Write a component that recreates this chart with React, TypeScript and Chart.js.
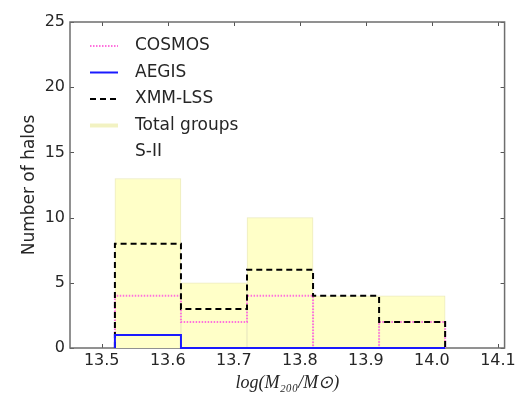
import React, { useEffect, useRef } from "react";
import { Chart, registerables } from "chart.js";

Chart.register(...registerables);

// Histogram bin edges in log(M200/Msun)
const binEdges = [13.52, 13.62, 13.72, 13.82, 13.92, 14.02];
// Halo counts per bin
const totalGroups = [13, 5, 10, 4, 4];
const xmmLss = [8, 3, 6, 4, 2];
const cosmos = [4, 2, 4, 0, 2];
const aegis = [1, 0, 0, 0, 0];

const xTicks = [13.5, 13.6, 13.7, 13.8, 13.9, 14.0, 14.1];
const yTicks = [0, 5, 10, 15, 20, 25];

const FONT = "'DejaVu Sans', sans-serif";
const TEXT = "#262626";

const COSMOS_STYLE = { color: "#ff70dd", dash: [1.5, 1.5], width: 2 };
const AEGIS_STYLE = { color: "#1a1aff", dash: [] as number[], width: 2 };
const XMM_STYLE = { color: "#000000", dash: [6, 4], width: 2 };

// Outline of a step histogram: rise at first edge, steps, drop at last edge
function stepPoints(counts: number[]) {
  const pts = [{ x: binEdges[0], y: 0 }];
  counts.forEach((c, i) => pts.push({ x: binEdges[i], y: c }));
  pts.push({ x: binEdges[binEdges.length - 1], y: 0 });
  return pts;
}

function barPoints(counts: number[]) {
  return counts.map((c, i) => ({ x: (binEdges[i] + binEdges[i + 1]) / 2, y: c }));
}

const legendItems = [
  { label: "COSMOS", ...COSMOS_STYLE },
  { label: "AEGIS", ...AEGIS_STYLE },
  { label: "XMM-LSS", ...XMM_STYLE },
  { label: "Total groups", color: "#f2f2c2", dash: [] as number[], width: 4 },
  { label: "S-II", color: null as string | null, dash: [] as number[], width: 0 },
];

const framePlugin = {
  id: "frameAndLegend",
  beforeDatasetsDraw(chart: any) {
    const ctx = chart.ctx;
    const { left, right, top, bottom } = chart.chartArea;
    const xs = chart.scales.x;
    const ys = chart.scales.y;
    ctx.save();
    // inward ticks on all four sides
    ctx.strokeStyle = "#555";
    ctx.lineWidth = 1;
    ctx.beginPath();
    xTicks.forEach((v) => {
      const px = Math.round(xs.getPixelForValue(v)) + 0.5;
      ctx.moveTo(px, bottom);
      ctx.lineTo(px, bottom - 4);
      ctx.moveTo(px, top);
      ctx.lineTo(px, top + 4);
    });
    yTicks.forEach((v) => {
      const py = Math.round(ys.getPixelForValue(v)) + 0.5;
      ctx.moveTo(left, py);
      ctx.lineTo(left + 4, py);
      ctx.moveTo(right, py);
      ctx.lineTo(right - 4, py);
    });
    ctx.stroke();
    // axes frame
    ctx.strokeStyle = "#6e6e6e";
    ctx.lineWidth = 1.5;
    ctx.strokeRect(left, top, right - left, bottom - top);
    ctx.restore();
  },
  afterDraw(chart: any) {
    const ctx = chart.ctx;
    const { left, top } = chart.chartArea;
    ctx.save();
    // legend in the upper-left corner of the plot
    const lx0 = left + 20;
    const lx1 = left + 48;
    const tx = left + 65;
    let y = top + 24;
    ctx.font = `17px ${FONT}`;
    ctx.textBaseline = "middle";
    ctx.textAlign = "left";
    legendItems.forEach((it) => {
      if (it.color) {
        ctx.strokeStyle = it.color;
        ctx.lineWidth = it.width;
        ctx.setLineDash(it.dash);
        ctx.beginPath();
        ctx.moveTo(lx0, y);
        ctx.lineTo(lx1, y);
        ctx.stroke();
        ctx.setLineDash([]);
      }
      ctx.fillStyle = TEXT;
      ctx.fillText(it.label, tx, y);
      y += 26.5;
    });
    ctx.restore();
  },
};

export default function App() {
  const ref = useRef<HTMLCanvasElement | null>(null);

  useEffect(() => {
    if (!ref.current) return;
    const chart = new Chart(ref.current, {
      type: "bar",
      data: {
        datasets: [
          {
            type: "bar",
            label: "Total groups",
            data: barPoints(totalGroups),
            backgroundColor: "#ffffc8",
            borderColor: "#ecebc0",
            borderWidth: 1,
            barPercentage: 1,
            categoryPercentage: 1,
            order: 4,
          } as any,
          {
            type: "line",
            label: "XMM-LSS",
            data: stepPoints(xmmLss),
            stepped: "before",
            borderColor: XMM_STYLE.color,
            borderWidth: XMM_STYLE.width,
            borderDash: XMM_STYLE.dash,
            pointRadius: 0,
            fill: false,
            clip: 4,
            order: 2,
          },
          {
            type: "line",
            label: "COSMOS",
            data: stepPoints(cosmos),
            stepped: "before",
            borderColor: COSMOS_STYLE.color,
            borderWidth: COSMOS_STYLE.width,
            borderDash: COSMOS_STYLE.dash,
            pointRadius: 0,
            fill: false,
            clip: 4,
            order: 3,
          },
          {
            type: "line",
            label: "AEGIS",
            data: stepPoints(aegis),
            stepped: "before",
            borderColor: AEGIS_STYLE.color,
            borderWidth: AEGIS_STYLE.width,
            pointRadius: 0,
            fill: false,
            clip: 4,
            order: 1,
          },
        ],
      },
      options: {
        animation: false,
        responsive: true,
        maintainAspectRatio: false,
        layout: { padding: { left: 0, top: 22, right: 14, bottom: 0 } },
        plugins: { legend: { display: false }, tooltip: { enabled: false } },
        scales: {
          x: {
            type: "linear",
            min: 13.452,
            max: 14.11,
            offset: false,
            grid: { display: false, drawTicks: false },
            border: { display: false },
            afterBuildTicks: (s: any) => {
              s.ticks = xTicks.map((v) => ({ value: v }));
            },
            ticks: {
              padding: 3,
              color: TEXT,
              font: { family: FONT, size: 16 },
              callback: (v: any) => Number(v).toFixed(1),
            },
            title: {
              display: true,
              text: "log(M₂₀₀/M⊙)",
              color: TEXT,
              padding: { top: 0, bottom: 1 },
              font: { family: "'Liberation Serif', serif", size: 18, style: "italic" },
            },
            afterFit: (s: any) => {
              s.height = 47;
            },
          },
          y: {
            min: 0,
            max: 25,
            grid: { display: false, drawTicks: false },
            border: { display: false },
            afterBuildTicks: (s: any) => {
              s.ticks = yTicks.map((v) => ({ value: v }));
            },
            ticks: {
              padding: 5,
              color: TEXT,
              font: { family: FONT, size: 16 },
            },
            title: {
              display: true,
              text: "Number of halos",
              color: TEXT,
              padding: { top: 19, bottom: 0 },
              font: { family: FONT, size: 17 },
            },
            afterFit: (s: any) => {
              s.width = 70;
            },
          },
        },
      } as any,
      plugins: [framePlugin],
    });
    return () => chart.destroy();
  }, []);

  return (
    <div style={{ position: "fixed", left: 0, top: 0, width: 519, height: 395, background: "#fff" }}>
      <canvas ref={ref} />
    </div>
  );
}
